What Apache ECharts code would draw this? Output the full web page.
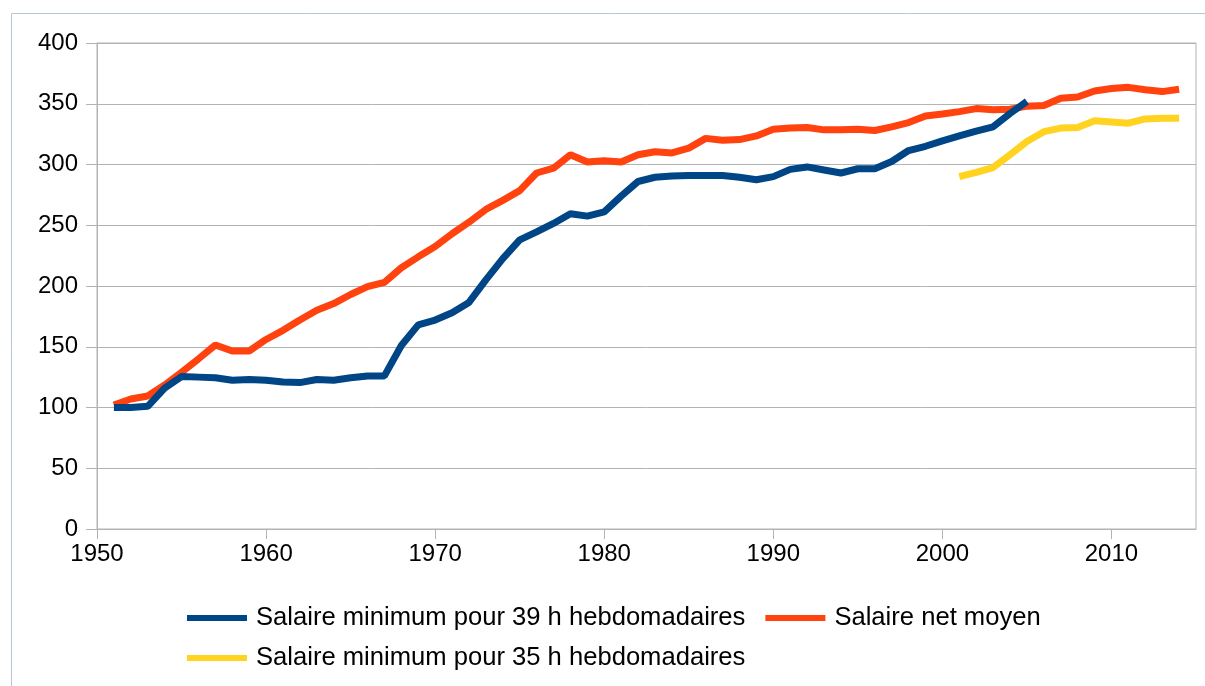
<!DOCTYPE html>
<html>
<head>
<meta charset="utf-8">
<title>Salaires</title>
<script src="https://cdn.jsdelivr.net/npm/echarts@6/dist/echarts.min.js"></script>
<style>
  html, body { margin: 0; padding: 0; background: #ffffff; }
  #chart { width: 1205px; height: 686px; }
</style>
</head>
<body>
<div id="chart"></div>
<script>
// Index base 100 in 1951, one value per year
const seriesNames = [
  'Salaire minimum pour 39 h hebdomadaires',
  'Salaire net moyen',
  'Salaire minimum pour 35 h hebdomadaires'
];

// 1951 - 2005
const smic39 = [
  100, 100, 101, 116, 125.5, 125, 124.5, 122.5, 123, 122.5,
  121, 120.5, 123, 122.5, 124.5, 126, 126, 151, 168, 172,
  178, 186.5, 205, 222.5, 238, 244.5, 251.5, 259.5, 257.5, 261,
  274, 286, 289.5, 290.5, 291, 291, 291, 289.5, 287.5, 290,
  296, 298, 295.5, 293, 296.5, 296.5, 302.5, 311.5, 315, 319.5,
  323.5, 327.5, 331, 342, 352
];
const smic39Start = 1951;

// 1951 - 2014
const netMoyen = [
  102, 107, 109.5, 118.5, 129, 140, 151.5, 146.5, 146.5, 156,
  163.5, 172, 180, 185.5, 193, 199.5, 203, 215, 224, 232.5,
  243, 252.5, 263, 270.5, 278.5, 293, 297, 308, 302, 303,
  302, 308, 310.5, 309.5, 313.5, 321.5, 320, 320.5, 323.5, 329,
  330, 330.5, 328.5, 328.5, 329, 328, 331, 334.5, 340, 341.5,
  343.5, 346, 345, 345.5, 348, 348.5, 354.5, 355.5, 360.5, 362.5,
  363.5, 361.5, 360, 362
];
const netMoyenStart = 1951;

// 2001 - 2014
const smic35 = [
  290, 293.5, 297.5, 308, 319, 327, 330, 330.5, 336, 335,
  334, 337.5, 338, 338
];
const smic35Start = 2001;

const xTicks = [1950, 1960, 1970, 1980, 1990, 2000, 2010];

function pairs(values, start) {
  return values.map((v, i) => [start + i, v]);
}

const colors = ['#004586', '#ff420e', '#ffd320'];
const font = 'Liberation Sans, Arial, sans-serif';
const grey = '#b3b3b3';

const chart = echarts.init(document.getElementById('chart'), null, { renderer: 'canvas' });

const legendText = { fontFamily: font, fontSize: 25.6, color: '#000', padding: [0, 0, 0, 4] };

chart.setOption({
  animation: false,
  backgroundColor: '#ffffff',
  graphic: [{
    type: 'rect',
    shape: { x: 11.5, y: 13.5, width: 1260, height: 720 },
    style: { fill: 'none', stroke: '#b4c5dc', lineWidth: 1 },
    silent: true
  }],
  grid: {
    left: 97, right: 9, top: 43, bottom: 157,
    show: true, borderColor: grey, borderWidth: 1, backgroundColor: 'transparent'
  },
  legend: [{
    data: [seriesNames[0], seriesNames[1]],
    left: 187, top: 605, padding: 0,
    icon: 'rect', itemWidth: 60, itemHeight: 6, itemGap: 20,
    textStyle: legendText
  }, {
    data: [seriesNames[2]],
    left: 187, top: 645, padding: 0,
    icon: 'rect', itemWidth: 60, itemHeight: 6,
    textStyle: legendText
  }],
  xAxis: {
    type: 'value', min: 1950, max: 2015, interval: 10,
    axisLine: { show: true, lineStyle: { color: grey, width: 1 } },
    axisTick: { show: true, length: 10, customValues: xTicks, lineStyle: { color: grey } },
    axisLabel: {
      customValues: xTicks, margin: 13,
      fontFamily: font, fontSize: 24, color: '#000',
      formatter: v => (v % 10 === 0 ? String(v) : '')
    },
    splitLine: { show: false }
  },
  yAxis: {
    type: 'value', min: 0, max: 400, interval: 50,
    axisLine: { show: true, lineStyle: { color: grey, width: 1 } },
    axisTick: { show: true, length: 11, lineStyle: { color: grey } },
    axisLabel: { margin: 19, fontFamily: font, fontSize: 24, color: '#000' },
    splitLine: { show: true, lineStyle: { color: grey, width: 1 } }
  },
  series: [{
    name: seriesNames[0], type: 'line', z: 4,
    data: pairs(smic39, smic39Start),
    showSymbol: false, symbol: 'none',
    lineStyle: { color: colors[0], width: 7 }, itemStyle: { color: colors[0] }
  }, {
    name: seriesNames[1], type: 'line', z: 3,
    data: pairs(netMoyen, netMoyenStart),
    showSymbol: false, symbol: 'none',
    lineStyle: { color: colors[1], width: 7 }, itemStyle: { color: colors[1] }
  }, {
    name: seriesNames[2], type: 'line', z: 3,
    data: pairs(smic35, smic35Start),
    showSymbol: false, symbol: 'none',
    lineStyle: { color: colors[2], width: 7 }, itemStyle: { color: colors[2] }
  }]
});
</script>
</body>
</html>
